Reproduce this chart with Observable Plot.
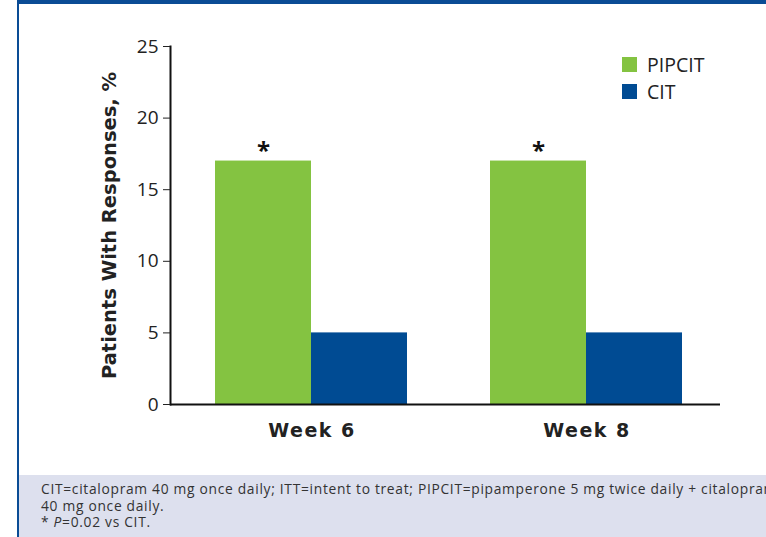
<!DOCTYPE html>
<html>
<head>
<meta charset="utf-8">
<script src="https://cdn.jsdelivr.net/npm/d3@7"></script>
<script src="https://cdn.jsdelivr.net/npm/@observablehq/plot@0.6"></script>
<style>
  html, body { margin: 0; padding: 0; background: #fff; }
  #wrap { position: relative; width: 766px; height: 537px; overflow: hidden; background: #fff; font-family: "Open Sans", "DejaVu Sans", sans-serif; }
  #topbar { position: absolute; left: 17px; top: 0; width: 749px; height: 4px; background: #0a4c95; }
  #leftbar { position: absolute; left: 17px; top: 0; width: 2px; height: 537px; background: #0a4c95; }
  #chart { position: absolute; left: 0; top: 0; }
  #legend { position: absolute; left: 622px; top: 51px; font-size: 19.5px; color: #222; }
  .sw { display: flex; align-items: center; height: 27px; }
  .sw span.box { display: inline-block; width: 15px; height: 15px; margin-right: 10px; }
  #foot { position: absolute; left: 19px; top: 475px; width: 747px; height: 62px; background: #dde0ee; overflow: hidden; }
  #foot p { margin: 0; position: absolute; left: 22px; top: 6px; white-space: nowrap; font-size: 13.8px; line-height: 16.5px; letter-spacing: 0.7px; color: #333; }
  #chart svg g[aria-label="y-axis label"] text { font-family: "DejaVu Sans", sans-serif; font-weight: bold; font-size: 19.5px; }
  #chart svg g[aria-label="fx-axis tick label"] text { font-family: "DejaVu Sans", sans-serif; font-weight: bold; font-size: 19px; letter-spacing: 1.5px; }
</style>
</head>
<body>
<div id="wrap">
  <div id="chart"></div>
  <div id="topbar"></div>
  <div id="leftbar"></div>
  <div id="legend"></div>
  <div id="foot"><p id="note"></p></div>
</div>
<script>
const weeks = ["Week 6", "Week 8"];
const series = ["PIPCIT", "CIT"];
const pipcitValues = [17, 17];
const citValues = [5, 5];
const seriesColors = ["#84c341", "#004b93"];
const yTicks = [0, 5, 10, 15, 20, 25];
const sigMarks = ["*", "*"];
const yLabel = "Patients With Responses, %";
const footLines = [
  "CIT=citalopram 40 mg once daily; ITT=intent to treat; PIPCIT=pipamperone 5 mg twice daily + citalopram",
  "40 mg once daily.",
  "* <i>P</i>=0.02 vs CIT."
];

const rows = [];
weeks.forEach((w, i) => {
  rows.push({week: w, series: "PIPCIT", value: pipcitValues[i], sig: sigMarks[i]});
  rows.push({week: w, series: "CIT", value: citValues[i], sig: ""});
});

const plot = Plot.plot({
  width: 766,
  height: 475,
  marginLeft: 170,
  marginRight: 46,
  marginTop: 46,
  marginBottom: 71,
  style: {fontFamily: "'Open Sans', 'DejaVu Sans', sans-serif", fontSize: "19px", color: "#222", background: "transparent"},
  fx: {domain: weeks, paddingInner: 0, paddingOuter: 0},
  x: {domain: series, paddingInner: 0, paddingOuter: 0.425, align: 0.54, axis: null},
  y: {domain: [0, 25]},
  color: {domain: series, range: seriesColors},
  marks: [
    Plot.barY(rows, {fx: "week", x: "series", y: "value", fill: "series"}),
    Plot.text(rows.filter(d => d.sig), {fx: "week", x: "series", y: "value", text: "sig", dy: -10, fontSize: 24, fontWeight: "bold", fill: "#111"}),
    Plot.ruleY([0], {stroke: "#111", strokeWidth: 2}),
    Plot.frame({anchor: "left", facet: "super", stroke: "#111", strokeWidth: 2}),
    Plot.axisY({ticks: yTicks, tickSize: 7, tickPadding: 5, tickFormat: d => d, label: yLabel, labelAnchor: "center", labelOffset: 68, labelArrow: "none", facetAnchor: "left"}),
    Plot.axisFx({anchor: "bottom", tickSize: 0, tickPadding: 19, dx: 4, label: null})
  ]
});
document.getElementById("chart").appendChild(plot);

const legend = document.getElementById("legend");
series.forEach((s, i) => {
  const div = document.createElement("div");
  div.className = "sw";
  div.innerHTML = `<span class="box" style="background:${seriesColors[i]}"></span>${s}`;
  legend.appendChild(div);
});
document.getElementById("note").innerHTML = footLines.join("<br>");
</script>
</body>
</html>
